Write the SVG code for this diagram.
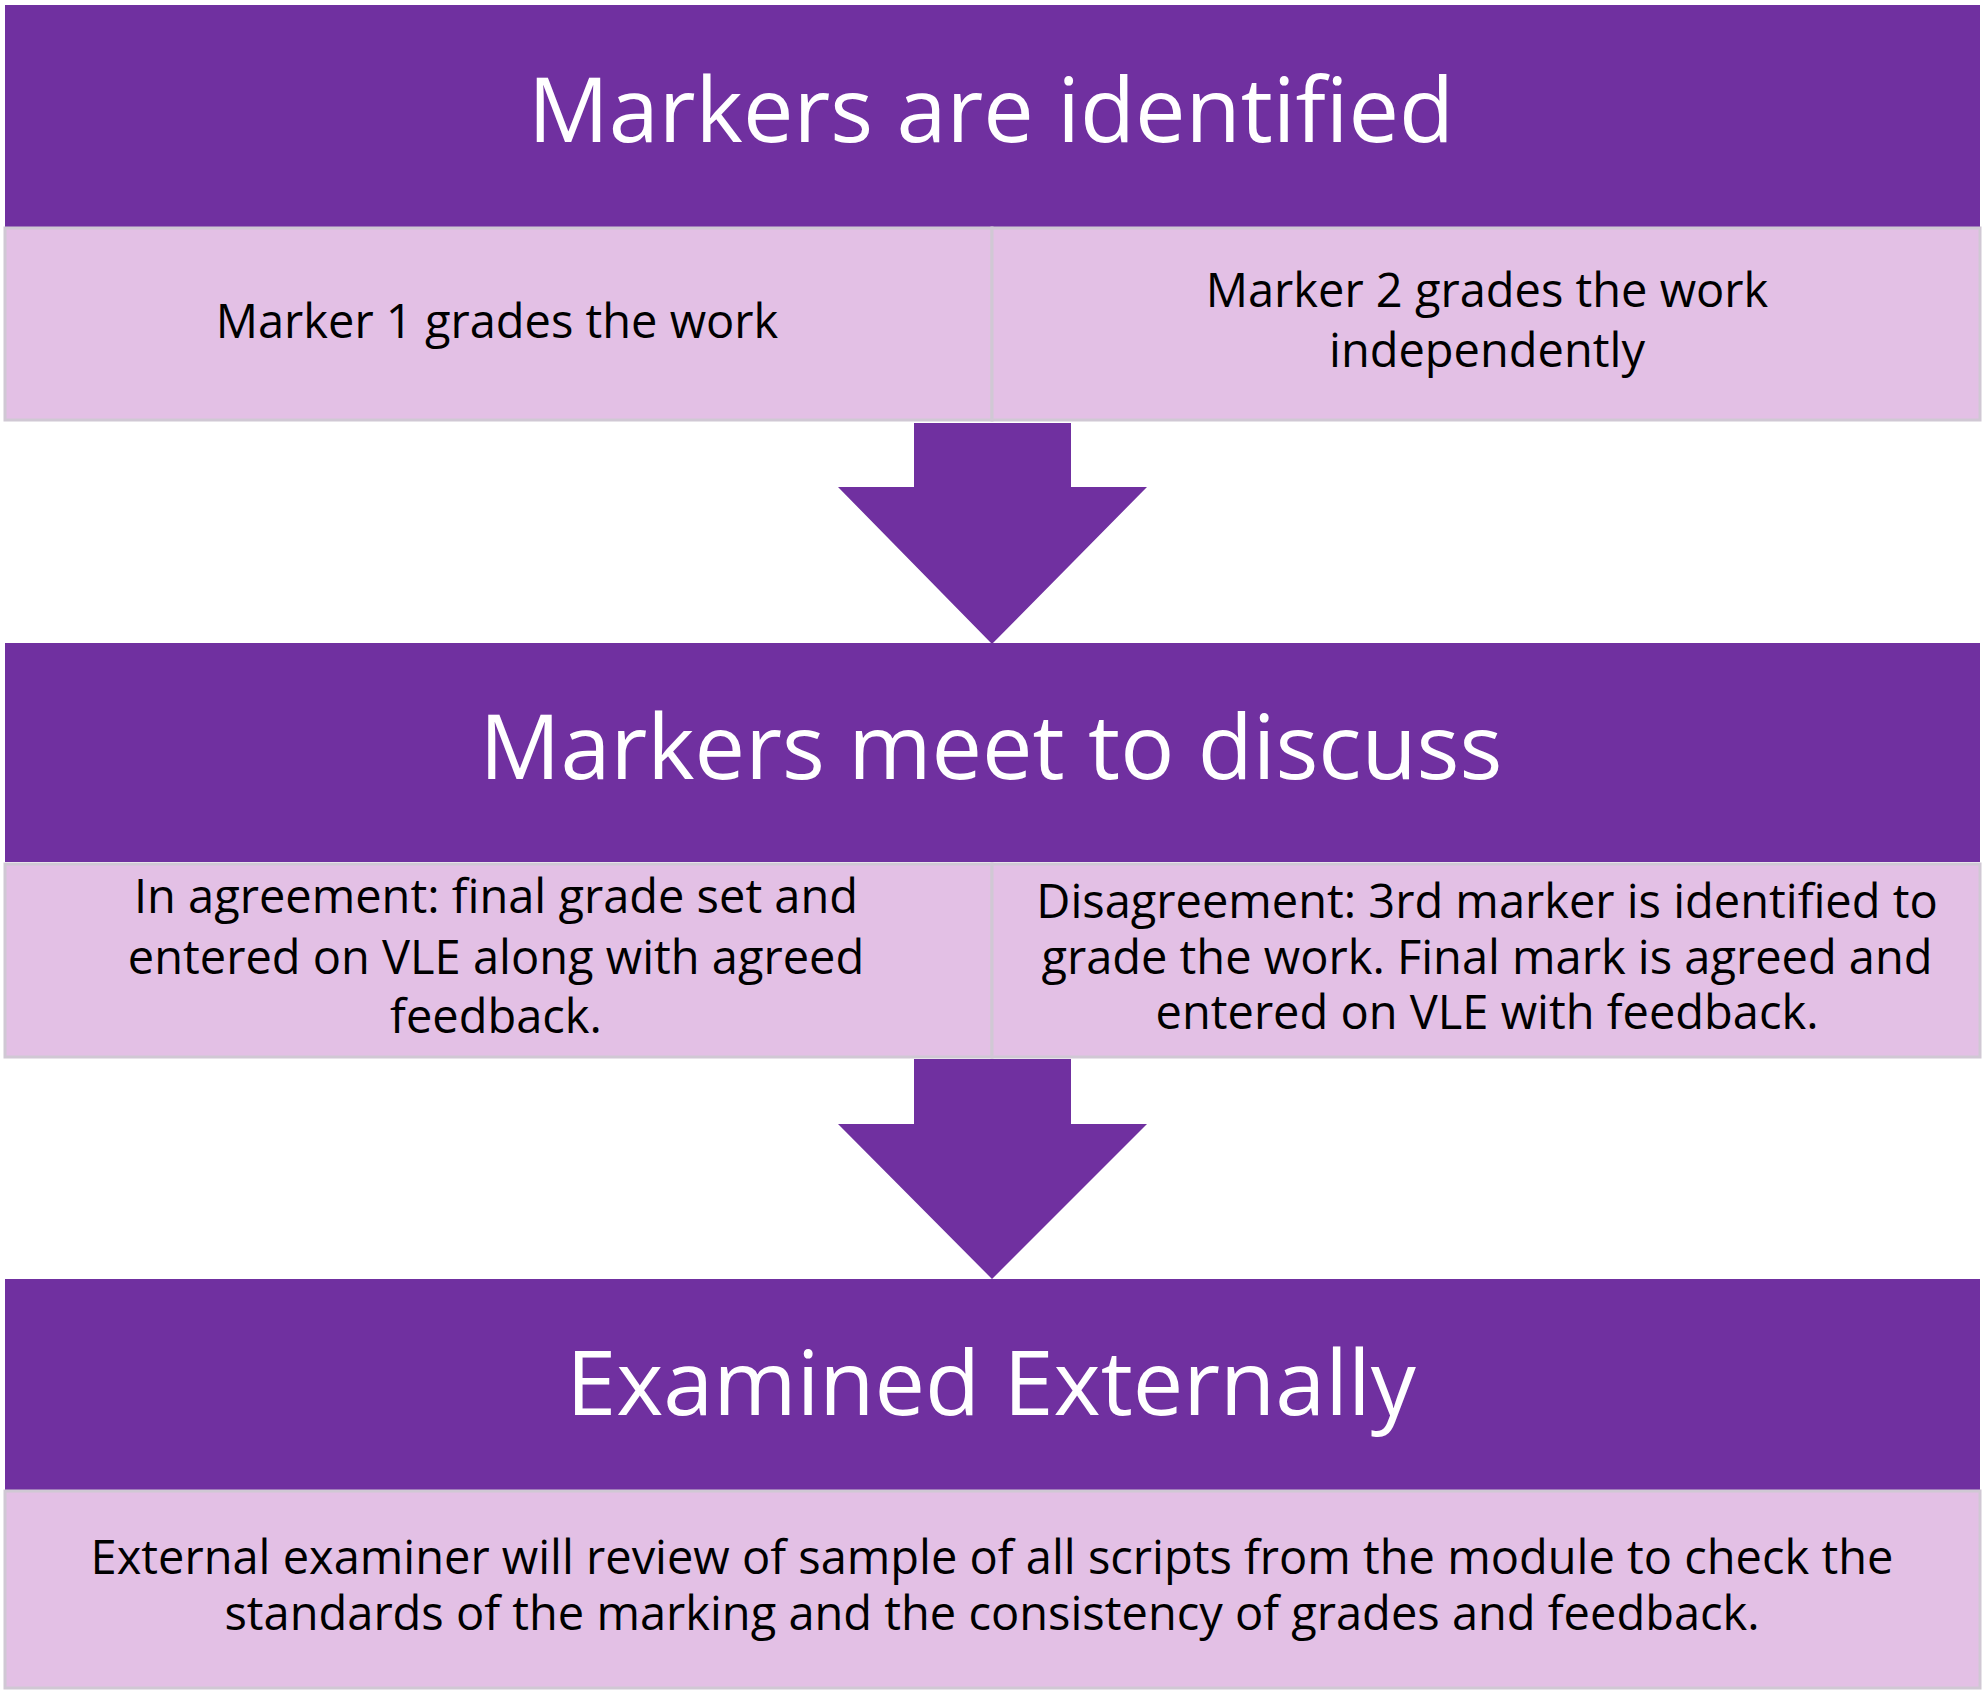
<svg xmlns="http://www.w3.org/2000/svg" width="1985" height="1696" viewBox="0 0 1985 1696">
<style>
.hd{fill:#7030A0}
.pk{fill:#E3C0E5;stroke:#D0C8D4;stroke-width:3}
.ti{font-family:"Open Sans","Liberation Sans",sans-serif;font-size:90px;fill:#fff;text-anchor:middle}
.tx{font-family:"Open Sans","Liberation Sans",sans-serif;font-size:47px;fill:#000;text-anchor:middle}
.ar{fill:#7030A0}
</style>
<rect width="1985" height="1696" fill="#fff"/>
<g id="step1">
<rect class="hd" x="5" y="5" width="1975" height="222"/>
<text class="ti" x="991" y="142">Markers are identified</text>
</g>
<g id="m1"><rect class="pk" x="5" y="228" width="987" height="192"/>
<text class="tx" x="497" y="338">Marker 1 grades the work</text></g>
<g id="m2"><rect class="pk" x="992" y="228" width="988" height="192"/>
<text class="tx" x="1487" y="307">Marker 2 grades the work</text>
<text class="tx" x="1487" y="367">independently</text></g>
<g id="step2">
<rect class="hd" x="5" y="643" width="1975" height="219"/>
<text class="ti" x="991" y="779">Markers meet to discuss</text>
</g>
<g id="agree"><rect class="pk" x="5" y="864" width="987" height="193"/>
<text class="tx" x="496" y="913">In agreement: final grade set and</text>
<text class="tx" x="496" y="974">entered on VLE along with agreed</text>
<text class="tx" x="496" y="1033">feedback.</text></g>
<g id="disagree"><rect class="pk" x="992" y="864" width="988" height="193"/>
<text class="tx" x="1487" y="918" font-size="41">Disagreement: 3rd marker is identified to</text>
<text class="tx" x="1487" y="974" font-size="41">grade the work. Final mark is agreed and</text>
<text class="tx" x="1487" y="1029" font-size="41">entered on VLE with feedback.</text></g>
<g id="step3">
<rect class="hd" x="5" y="1279" width="1975" height="211"/>
<text class="ti" x="991" y="1415">Examined Externally</text>
</g>
<g id="ext"><rect class="pk" x="5" y="1491" width="1975" height="197"/>
<text class="tx" x="992" y="1574" font-size="43">External examiner will review of sample of all scripts from the module to check the</text>
<text class="tx" x="992" y="1630" font-size="43">standards of the marking and the consistency of grades and feedback.</text></g>
<g id="connectors">
<polygon class="ar" points="914,423 1071,423 1071,487 1147,487 992,644 838,487 914,487"/>
<polygon class="ar" points="914,1059 1071,1059 1071,1124 1147,1124 992,1279 838,1124 914,1124"/>
</g>
</svg>
